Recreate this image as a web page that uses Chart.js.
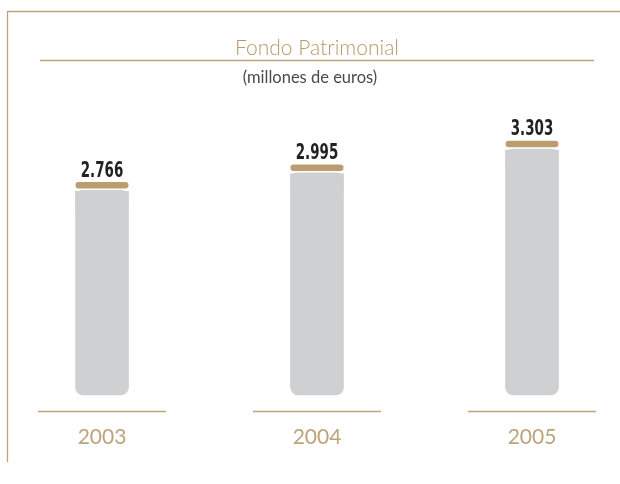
<!DOCTYPE html>
<html><head><meta charset="utf-8">
<script src="https://cdn.jsdelivr.net/npm/chart.js@4/dist/chart.umd.min.js"></script>
<style>html,body{margin:0;padding:0;background:#fff;}canvas{display:block;}</style>
</head><body>
<canvas id="c" width="620" height="484"></canvas>
<script>
const categories = ["2003", "2004", "2005"];
const values = [2766, 2995, 3303];
const valueLabels = ["2.766", "2.995", "3.303"];
const titleText = "Fondo Patrimonial";
const subtitleText = "(millones de euros)";

const GOLD = "#bfa47a";
const CAP = "#bb9e70";
const GRAY = "#cfd0d1";

const decor = {
  id: "decor",
  beforeDraw(chart) {
    const ctx = chart.ctx;
    ctx.save();
    ctx.fillStyle = "#fff";
    ctx.fillRect(0, 0, chart.width, chart.height);
    ctx.strokeStyle = GOLD; ctx.lineWidth = 1.3;
    ctx.beginPath(); ctx.moveTo(7.5, 462); ctx.lineTo(7.5, 11.5); ctx.lineTo(620, 11.5); ctx.stroke();
    ctx.textAlign = "center"; ctx.textBaseline = "alphabetic";
    ctx.fillStyle = "#b59a6c"; ctx.font = "300 21px Lato";
    ctx.fillText(titleText, 317, 55);
    ctx.strokeStyle = GOLD; ctx.lineWidth = 1.3;
    ctx.beginPath(); ctx.moveTo(40, 60.5); ctx.lineTo(594, 60.5); ctx.stroke();
    ctx.fillStyle = "#4a4a4a"; ctx.font = "16.5px Lato";
    ctx.fillText(subtitleText, 310, 83);
    const xs = chart.scales.x;
    categories.forEach((c, i) => {
      const x = xs.getPixelForValue(i);
      ctx.strokeStyle = GOLD; ctx.lineWidth = 1.3;
      ctx.beginPath(); ctx.moveTo(x - 64, 411.5); ctx.lineTo(x + 64, 411.5); ctx.stroke();
      ctx.fillStyle = "#bca47c"; ctx.font = "21px Lato";
      ctx.fillText(c, x, 444);
    });
    ctx.restore();
  },
  afterDatasetsDraw(chart) {
    const ctx = chart.ctx;
    const meta = chart.getDatasetMeta(0);
    ctx.save();
    meta.data.forEach((bar, i) => {
      const w = bar.width;
      const top = bar.y;
      const left = bar.x - w / 2;
      // gap between cap and body
      ctx.fillStyle = "#fff";
      ctx.fillRect(left - 1, top - 1, w + 2, 10);
      ctx.fillStyle = GRAY;
      ctx.beginPath();
      ctx.roundRect(left, top + 8, w, 20, [7, 7, 0, 0]);
      ctx.fill();
      // cap
      ctx.fillStyle = CAP;
      ctx.beginPath();
      ctx.roundRect(left, top, w, 6.5, 3.25);
      ctx.fill();
      // value label
      ctx.save();
      ctx.translate(bar.x, top - 5.5);
      ctx.scale(0.64, 1);
      ctx.fillStyle = "#222";
      ctx.font = "bold 21px 'DejaVu Sans', sans-serif";
      ctx.textAlign = "center"; ctx.textBaseline = "alphabetic";
      ctx.fillText(valueLabels[i], 0, 0);
      ctx.restore();
    });
    ctx.restore();
  }
};

new Chart(document.getElementById("c"), {
  type: "bar",
  data: {
    labels: categories,
    datasets: [{
      data: values,
      backgroundColor: GRAY,
      borderRadius: 8,
      borderSkipped: false,
      barThickness: 53,
      clip: false
    }]
  },
  options: {
    responsive: false,
    animation: false,
    devicePixelRatio: 1,
    layout: { padding: { left: 102, right: 88, top: 87, bottom: 89 } },
    plugins: { legend: { display: false }, tooltip: { enabled: false }, title: { display: false } },
    scales: {
      x: { display: false, offset: false },
      y: { display: false, min: 0, max: 4000 }
    }
  },
  plugins: [decor]
});
</script>
</body></html>
